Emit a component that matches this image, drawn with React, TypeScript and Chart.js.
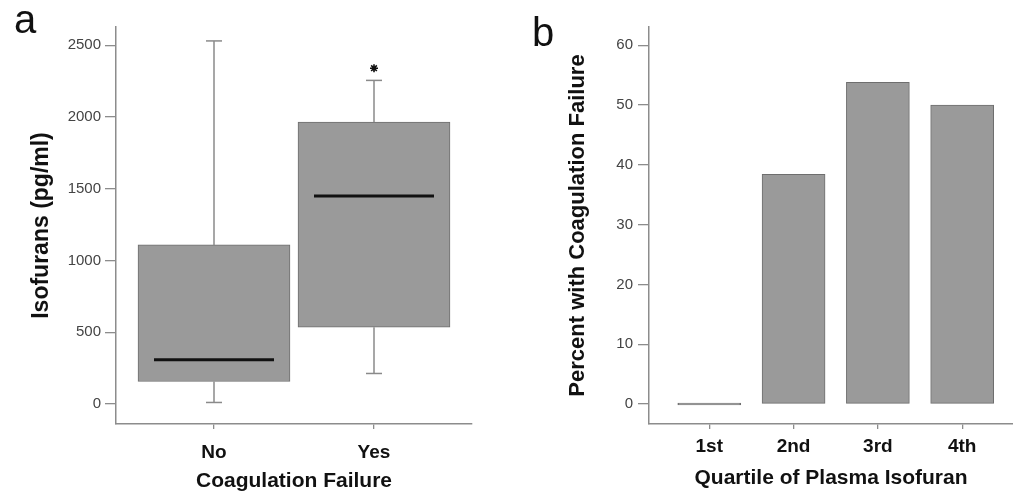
import React, { useEffect, useRef } from 'react';
import { Chart, registerables } from 'chart.js';

Chart.register(...registerables);

// ---- Panel a: box plot data ----
const groups = ['No', 'Yes'];
const whiskerLow = [11, 213];
const q1 = [157, 535];
const median = [308, 1449];
const q3 = [1109, 1965];
const whiskerHigh = [2530, 2255];
const extremeGroup = [2]; // 1-based group position
const extremeValue = [2340];
const isoTicks = [0, 500, 1000, 1500, 2000, 2500];

// ---- Panel b: bar data ----
const quartiles = ['1st', '2nd', '3rd', '4th'];
const percentFailure = [0, 38.4, 53.8, 50];
const pctTicks = [0, 10, 20, 30, 40, 50, 60];

const FONT = '"Liberation Sans", Arial, Helvetica, sans-serif';
const AXIS = '#8c8c8c';
const BOX_FILL = '#9a9a9a';
const BOX_EDGE = '#6e6e6e';
const WHISKER = '#8a8a8a';
const TICK_TXT = '#444';
const TITLE_TXT = '#111';

const CAP_HALF = 0.05;
const MED_HALF = 0.375;

const seg = (x0: number, y0: number, x1: number, y1: number) => [
  { x: x0, y: y0 },
  { x: x1, y: y1 },
];

const lineDs = (data: any[], color: string, width: number, order: number) => ({
  type: 'line' as const,
  data,
  borderColor: color,
  borderWidth: width,
  borderCapStyle: 'butt',
  pointRadius: 0,
  pointHoverRadius: 0,
  fill: false,
  order,
});

function leftConfig(): any {
  const pos = groups.map((_, i) => i + 1);
  const datasets: any[] = [
    ...pos.map((x, i) => lineDs(seg(x - MED_HALF, median[i], x + MED_HALF, median[i]), '#111', 3, 0)),
    ...pos.map((x, i) => lineDs(seg(x, q3[i], x, whiskerHigh[i]), WHISKER, 1.5, 1)),
    ...pos.map((x, i) => lineDs(seg(x, q1[i], x, whiskerLow[i]), WHISKER, 1.5, 1)),
    ...pos.map((x, i) => lineDs(seg(x - CAP_HALF, whiskerHigh[i], x + CAP_HALF, whiskerHigh[i]), WHISKER, 1.5, 1)),
    ...pos.map((x, i) => lineDs(seg(x - CAP_HALF, whiskerLow[i], x + CAP_HALF, whiskerLow[i]), WHISKER, 1.5, 1)),
    {
      type: 'line',
      data: extremeGroup.map((g, k) => ({ x: g, y: extremeValue[k] })),
      showLine: false,
      pointStyle: 'star',
      pointRadius: 4,
      pointBorderWidth: 1.6,
      pointBorderColor: '#111',
      pointBackgroundColor: '#111',
      borderColor: '#111',
      order: 0,
    },
    {
      type: 'bar',
      data: pos.map((x, i) => ({ x, y: [q1[i], q3[i]] })),
      backgroundColor: BOX_FILL,
      borderColor: BOX_EDGE,
      borderWidth: 1,
      borderSkipped: false,
      barThickness: 152,
      order: 3,
    },
  ];
  return {
    type: 'bar',
    data: { datasets },
    options: {
      animation: false,
      responsive: false,
      layout: { padding: { top: 27, right: 28, bottom: 0, left: 0 } },
      plugins: { legend: { display: false }, tooltip: { enabled: false } },
      scales: {
        x: {
          type: 'linear',
          min: 0.3875,
          max: 2.6125,
          offset: false,
          afterBuildTicks: (s: any) => {
            s.ticks = pos.map((v) => ({ value: v }));
          },
          grid: { offset: false, drawOnChartArea: false, drawTicks: true, tickLength: 5, color: AXIS, lineWidth: 1.3 },
          border: { display: true, color: AXIS, width: 1.5 },
          ticks: {
            callback: (_v: any, i: number) => groups[i],
            font: { family: FONT, size: 19, weight: 'bold' },
            color: TITLE_TXT,
            padding: 12,
            maxRotation: 0,
            autoSkip: false,
          },
          title: {
            display: true,
            text: 'Coagulation Failure',
            font: { family: FONT, size: 21, weight: 'bold' },
            color: TITLE_TXT,
            padding: { top: 0, bottom: 2 },
          },
          afterFit: (s: any) => {
            s.height = 72;
          },
        },
        y: {
          type: 'linear',
          min: -139,
          max: 2627,
          afterBuildTicks: (s: any) => {
            s.ticks = isoTicks.map((v) => ({ value: v }));
          },
          grid: { drawOnChartArea: false, drawTicks: true, tickLength: 11, color: AXIS, lineWidth: 1.3 },
          border: { display: true, color: AXIS, width: 1.5 },
          ticks: {
            callback: (v: any) => String(v),
            font: { family: FONT, size: 15 },
            color: TICK_TXT,
            padding: 4,
          },
          title: {
            display: true,
            text: 'Isofurans (pg/ml)',
            font: { family: FONT, size: 23, weight: 'bold' },
            color: TITLE_TXT,
            padding: { top: 28, bottom: 0 },
          },
          afterFit: (s: any) => {
            s.width = 116;
          },
        },
      },
    },
  };
}

function rightConfig(): any {
  const pos = quartiles.map((_, i) => i + 1);
  return {
    type: 'bar',
    data: {
      datasets: [
        {
          data: pos.map((x, i) => ({ x, y: percentFailure[i] })),
          backgroundColor: BOX_FILL,
          borderColor: BOX_EDGE,
          borderWidth: 1,
          borderSkipped: false,
          barThickness: 63,
          minBarLength: 2,
        },
      ],
    },
    options: {
      animation: false,
      responsive: false,
      layout: { padding: { top: 27, right: 0, bottom: 0, left: 0 } },
      plugins: { legend: { display: false }, tooltip: { enabled: false } },
      scales: {
        x: {
          type: 'linear',
          min: 0.285,
          max: 4.603,
          offset: false,
          afterBuildTicks: (s: any) => {
            s.ticks = pos.map((v) => ({ value: v }));
          },
          grid: { offset: false, drawOnChartArea: false, drawTicks: true, tickLength: 5, color: AXIS, lineWidth: 1.3 },
          border: { display: true, color: AXIS, width: 1.5 },
          ticks: {
            callback: (_v: any, i: number) => quartiles[i],
            font: { family: FONT, size: 19, weight: 'bold' },
            color: TITLE_TXT,
            padding: 6,
            maxRotation: 0,
            autoSkip: false,
          },
          title: {
            display: true,
            text: 'Quartile of Plasma Isofuran',
            font: { family: FONT, size: 21, weight: 'bold' },
            color: TITLE_TXT,
            padding: { top: 0, bottom: 5 },
          },
          afterFit: (s: any) => {
            s.height = 72;
          },
        },
        y: {
          type: 'linear',
          min: -3.34,
          max: 63.06,
          afterBuildTicks: (s: any) => {
            s.ticks = pctTicks.map((v) => ({ value: v }));
          },
          grid: { drawOnChartArea: false, drawTicks: true, tickLength: 11, color: AXIS, lineWidth: 1.3 },
          border: { display: true, color: AXIS, width: 1.5 },
          ticks: {
            callback: (v: any) => String(v),
            font: { family: FONT, size: 15 },
            color: TICK_TXT,
            padding: 5,
          },
          title: {
            display: true,
            text: 'Percent with Coagulation Failure',
            font: { family: FONT, size: 22, weight: 'bold' },
            color: TITLE_TXT,
            padding: { top: 65, bottom: 0 },
          },
          afterFit: (s: any) => {
            s.width = 149;
          },
        },
      },
    },
  };
}

export default function App() {
  const leftRef = useRef<HTMLCanvasElement>(null);
  const rightRef = useRef<HTMLCanvasElement>(null);

  useEffect(() => {
    const c1 = new Chart(leftRef.current as HTMLCanvasElement, leftConfig());
    const c2 = new Chart(rightRef.current as HTMLCanvasElement, rightConfig());
    return () => {
      c1.destroy();
      c2.destroy();
    };
  }, []);

  const letter: React.CSSProperties = {
    position: 'absolute',
    fontFamily: FONT,
    fontSize: 40,
    lineHeight: '40px',
    color: '#111',
  };

  return (
    <div style={{ position: 'absolute', left: 0, top: 0, width: 1013, height: 496, background: '#fff', overflow: 'hidden' }}>
      <canvas ref={leftRef} width={500} height={496} style={{ position: 'absolute', left: 0, top: 0, width: 500, height: 496 }} />
      <canvas ref={rightRef} width={513} height={496} style={{ position: 'absolute', left: 500, top: 0, width: 513, height: 496 }} />
      <div style={{ ...letter, left: 14, top: -1 }}>a</div>
      <div style={{ ...letter, left: 532, top: 12 }}>b</div>
    </div>
  );
}
